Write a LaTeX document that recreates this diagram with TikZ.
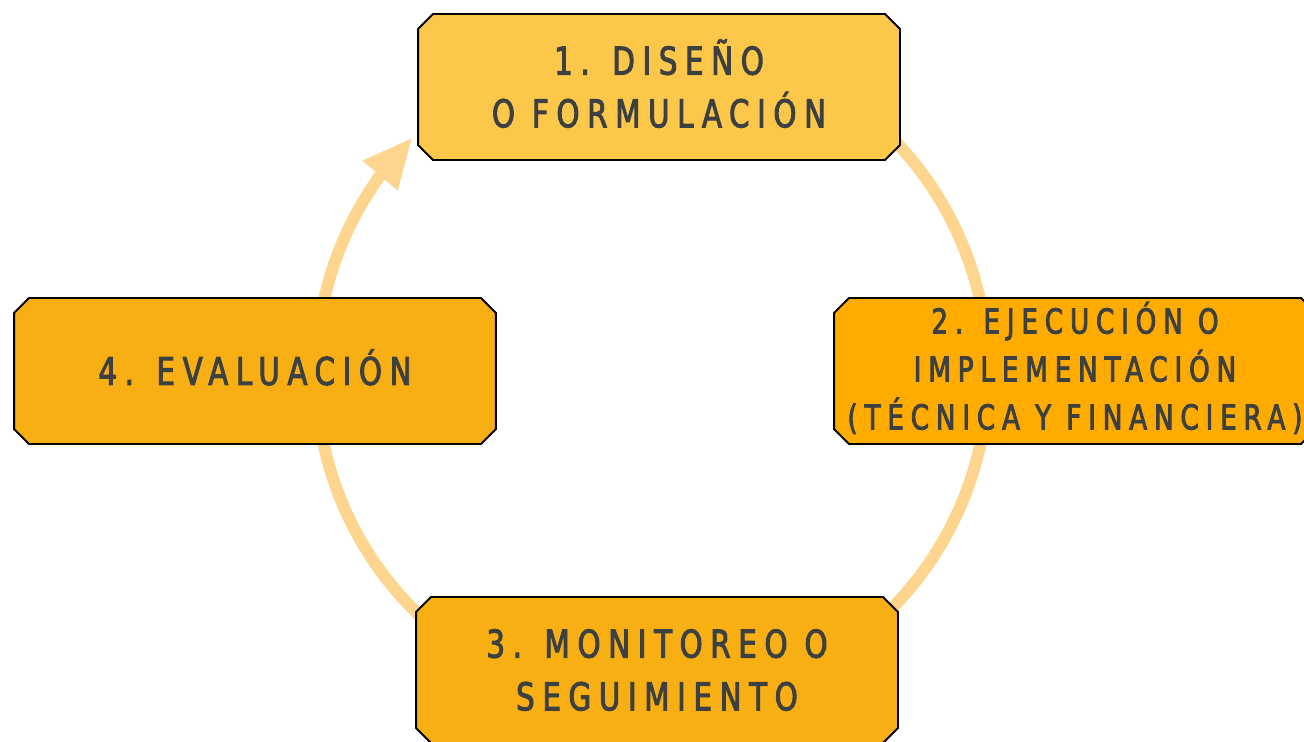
\documentclass[tikz,border=0pt]{standalone}
\usepackage{fontspec}
\newfontfamily\stagefont[LetterSpace=20,FakeStretch=0.85,FakeBold=2.5]{DejaVu Sans Condensed}
\usetikzlibrary{shapes.misc,arrows.meta,bending}
\definecolor{stageone}{HTML}{FDC84A}
\definecolor{stagetwo}{HTML}{FFAB00}
\definecolor{stagerest}{HTML}{F8AF14}
\definecolor{loopcol}{HTML}{FDD58E}
\definecolor{stagetext}{HTML}{3D4040}
% accented capital that does not count in the line height
\newcommand\flatacc[1]{\hspace{0.2em}\smash{#1}\hspace{0.2em}}
\begin{document}
\begin{tikzpicture}[x=0.02cm,y=-0.02cm,
    stage/.style={chamfered rectangle, chamfered rectangle xsep=0.15cm,
      chamfered rectangle ysep=0.15cm, draw=black, line width=1.1pt,
      minimum width=9.64cm, minimum height=2.92cm, inner sep=0pt,
      text=stagetext, align=center,
      font=\stagefont\fontsize{21.8pt}{30pt}\selectfont},
    looparrow/.style={line width=0.24cm, color=loopcol,
      -{Triangle[length=1.0cm,width=0.85cm,flex]}}]
    \useasboundingbox (0,0) rectangle (1304,741);
    % the cycle behind the boxes
    \coordinate (ctr) at (652,373);
    \draw[looparrow] ([shift={(45:6.72cm)}]ctr) arc[start angle=45, end angle=-224.5, radius=6.72cm];
    % stages
    \node[stage, fill=stageone] (design) at (659,87) {1. DISE\flatacc{Ñ}O\\O FORMULACIÓN};
    \node[stage, fill=stagetwo, inner ysep=-0.3cm,
      font=\stagefont\fontsize{19.5pt}{27.3pt}\selectfont] (exec) at (1075,371) {2. EJECUCI\flatacc{Ó}N O\\IMPLEMENTACIÓN\\(TÉCNICA Y FINANCIERA)};
    \node[stage, fill=stagerest] (monitor) at (657,670) {3. MONITOREO O\\SEGUIMIENTO};
    \node[stage, fill=stagerest] (eval) at (255,371) {4. EVALUACI\flatacc{Ó}N};
\end{tikzpicture}
\end{document}
